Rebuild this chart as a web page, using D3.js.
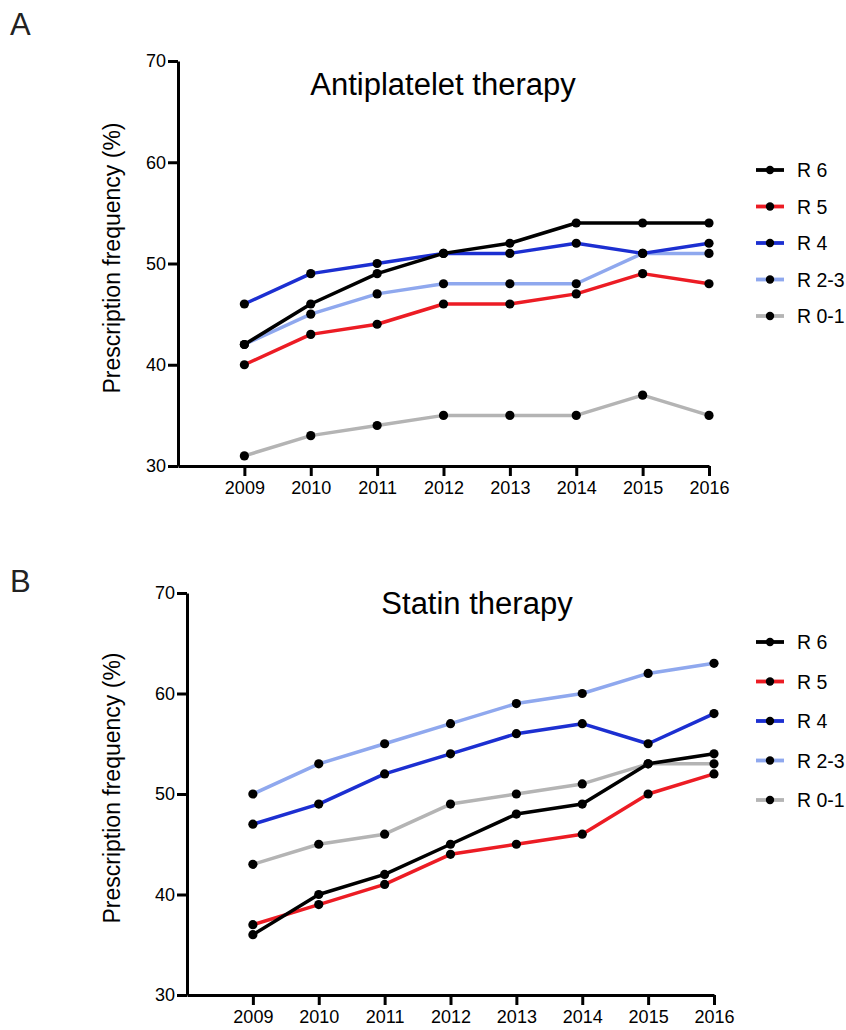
<!DOCTYPE html>
<html>
<head>
<meta charset="utf-8">
<script src="https://cdn.jsdelivr.net/npm/d3@7"></script>
<style>
  html, body { margin: 0; padding: 0; background: #fff; }
  svg { display: block; font-family: "Liberation Sans", Arial, Helvetica, sans-serif; }
</style>
</head>
<body>
<svg id="chart" width="846" height="1030"></svg>
<script>
// ---- Data ----
const years = [2009, 2010, 2011, 2012, 2013, 2014, 2015, 2016];
const seriesNames = ["R 6", "R 5", "R 4", "R 2-3", "R 0-1"];
const seriesColors = ["#000000", "#ec1c24", "#1c2fd1", "#8fa8ee", "#b4b4b4"];
const yTicks = [30, 40, 50, 60, 70];

// Panel A: Antiplatelet therapy
const antiR6  = [42, 46, 49, 51, 52, 54, 54, 54];
const antiR5  = [40, 43, 44, 46, 46, 47, 49, 48];
const antiR4  = [46, 49, 50, 51, 51, 52, 51, 52];
const antiR23 = [42, 45, 47, 48, 48, 48, 51, 51];
const antiR01 = [31, 33, 34, 35, 35, 35, 37, 35];

// Panel B: Statin therapy
const statR6  = [36, 40, 42, 45, 48, 49, 53, 54];
const statR5  = [37, 39, 41, 44, 45, 46, 50, 52];
const statR4  = [47, 49, 52, 54, 56, 57, 55, 58];
const statR23 = [50, 53, 55, 57, 59, 60, 62, 63];
const statR01 = [43, 45, 46, 49, 50, 51, 53, 53];

const svg = d3.select("#chart");

function drawPanel(opt) {
  const g = svg.append("g");
  const x = d3.scaleLinear().domain([2008, 2016]).range([opt.left, opt.right]);
  const y = d3.scaleLinear().domain([30, 70]).range([opt.bottom, opt.top]);

  // panel letter
  g.append("text").attr("x", 10).attr("y", opt.letterY)
    .attr("font-size", 31).attr("fill", "#222").text(opt.letter);

  // title
  g.append("text").attr("x", opt.titleX).attr("y", opt.titleY)
    .attr("text-anchor", "middle").attr("font-size", 31).attr("fill", "#000")
    .text(opt.title);

  // y label
  g.append("text")
    .attr("transform", `translate(120,${opt.labelY}) rotate(-90)`)
    .attr("text-anchor", "middle").attr("font-size", 23).attr("fill", "#000")
    .text("Prescription frequency (%)");

  // axes
  const yAxis = d3.axisLeft(y).tickValues(yTicks).tickSize(10).tickPadding(2).tickSizeOuter(0);
  const ya = g.append("g").attr("transform", `translate(${opt.left},0)`).call(yAxis);
  const xAxis = d3.axisBottom(x).tickValues(years).tickFormat(d3.format("d"))
    .tickSize(10).tickPadding(5).tickSizeOuter(0);
  const xa = g.append("g").attr("transform", `translate(0,${opt.bottom})`).call(xAxis);
  [ya, xa].forEach(a => {
    a.attr("font-size", 18).attr("font-family", "'Liberation Sans', Arial, sans-serif");
    a.select(".domain").attr("stroke", "#000").attr("stroke-width", 3);
    a.selectAll(".tick line").attr("stroke", "#000").attr("stroke-width", 3);
    a.selectAll(".tick text").attr("font-size", 18).attr("fill", "#000");
  });

  // lines (draw bottom of legend first)
  const line = d3.line().x((d, i) => x(years[i])).y(d => y(d));
  const order = [4, 3, 2, 1, 0];
  order.forEach(k => {
    g.append("path").datum(opt.data[k])
      .attr("d", line).attr("fill", "none")
      .attr("stroke", seriesColors[k]).attr("stroke-width", 3.5)
      .attr("stroke-linejoin", "round");
  });
  order.forEach(k => {
    g.selectAll(null).data(opt.data[k]).enter().append("circle")
      .attr("cx", (d, i) => x(years[i])).attr("cy", d => y(d))
      .attr("r", 4.6).attr("fill", "#000");
  });

  // legend
  seriesNames.forEach((name, k) => {
    const ly = opt.legendY + k * opt.legendStep;
    g.append("line").attr("x1", 756).attr("x2", 784).attr("y1", ly).attr("y2", ly)
      .attr("stroke", seriesColors[k]).attr("stroke-width", 3.8);
    g.append("circle").attr("cx", 770).attr("cy", ly).attr("r", 4.2).attr("fill", "#000");
    g.append("text").attr("x", 797).attr("y", ly).attr("dy", "0.36em")
      .attr("font-size", 19.5).attr("fill", "#000").text(name);
  });
}

drawPanel({
  letter: "A", letterY: 35,
  title: "Antiplatelet therapy", titleX: 443, titleY: 95,
  left: 178, right: 709, top: 61, bottom: 466, labelY: 258,
  data: [antiR6, antiR5, antiR4, antiR23, antiR01],
  legendY: 170, legendStep: 36.5
});

drawPanel({
  letter: "B", letterY: 592,
  title: "Statin therapy", titleX: 477, titleY: 614,
  left: 187, right: 714, top: 593, bottom: 995, labelY: 788,
  data: [statR6, statR5, statR4, statR23, statR01],
  legendY: 642, legendStep: 39.5
});
</script>
</body>
</html>
